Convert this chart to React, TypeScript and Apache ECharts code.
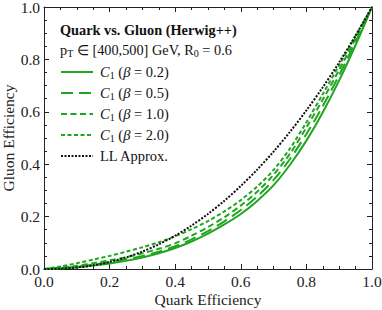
import React, { useEffect, useRef } from "react";
import * as echarts from "echarts";

const quarkEff = [0, 0.05, 0.1, 0.15, 0.2, 0.25, 0.3, 0.35, 0.4, 0.45, 0.5, 0.55, 0.6, 0.65, 0.7, 0.75, 0.8, 0.85, 0.9, 0.95, 1.0];
const beta02 = [0, 0.002, 0.0065, 0.013, 0.021, 0.031, 0.044, 0.06, 0.08, 0.105, 0.135, 0.17, 0.21, 0.26, 0.32, 0.398, 0.49, 0.598, 0.72, 0.855, 1.0];
const beta05 = [0, 0.003, 0.009, 0.017, 0.026, 0.037, 0.05, 0.066, 0.087, 0.113, 0.145, 0.182, 0.225, 0.277, 0.34, 0.42, 0.515, 0.622, 0.74, 0.868, 1.0];
const beta10 = [0, 0.005, 0.012, 0.022, 0.033, 0.045, 0.06, 0.077, 0.098, 0.127, 0.16, 0.198, 0.242, 0.295, 0.36, 0.44, 0.54, 0.647, 0.76, 0.88, 1.0];
const beta20 = [0, 0.01, 0.022, 0.036, 0.05, 0.066, 0.083, 0.102, 0.125, 0.152, 0.183, 0.22, 0.263, 0.315, 0.378, 0.46, 0.56, 0.668, 0.778, 0.89, 1.0];
const llApprox = [0, 0.0012, 0.0056, 0.014, 0.0268, 0.0442, 0.0666, 0.0942, 0.1272, 0.1658, 0.2102, 0.2605, 0.3169, 0.3794, 0.4482, 0.5235, 0.6053, 0.6937, 0.7889, 0.891, 1.0];
const tickLabels = ["0.0", "0.2", "0.4", "0.6", "0.8", "1.0"];
const legendLabels = [
  "{i|C}{s|1} ({i|β} = 0.2)",
  "{i|C}{s|1} ({i|β} = 0.5)",
  "{i|C}{s|1} ({i|β} = 1.0)",
  "{i|C}{s|1} ({i|β} = 2.0)",
  "LL Approx.",
];

const GREEN = "#1fa51f";
const BLACK = "#111";
const FONT = "Liberation Serif";

const pairs = (ys: number[]) => quarkEff.map((x, i) => [x, ys[i]]);

const styles: { color: string; dash: number[] | null }[] = [
  { color: GREEN, dash: null },
  { color: GREEN, dash: [12, 6] },
  { color: GREEN, dash: [6, 3.5] },
  { color: GREEN, dash: [4, 2.5] },
  { color: BLACK, dash: [2, 1.5] },
];

export default function App() {
  const ref = useRef<HTMLDivElement>(null);
  useEffect(() => {
    if (!ref.current) return;
    const chart = echarts.init(ref.current, undefined, { renderer: "svg" });
    const axisCommon = {
      type: "value" as const,
      min: 0,
      max: 1,
      interval: 0.2,
      axisLine: { show: true, onZero: false, lineStyle: { color: "#222", width: 1 } },
      axisTick: { show: true, inside: true, length: 5, lineStyle: { color: "#222" } },
      minorTick: { show: true, splitNumber: 4, length: 3, lineStyle: { color: "#222" } },
      splitLine: { show: false },
      minorSplitLine: { show: false },
    };
    const labelStyle = {
      fontFamily: FONT,
      fontSize: 15.5,
      color: "#222",
      formatter: (v: number) => tickLabels[Math.round(v * 5)] ?? "",
    };
    const seriesData = [beta02, beta05, beta10, beta20, llApprox];
    const series = seriesData.map((d, k) => ({
      name: "s" + k,
      type: "line",
      data: pairs(d),
      smooth: 0.3,
      symbol: "none",
      lineStyle: { color: styles[k].color, width: 2, type: styles[k].dash ?? "solid" },
      z: k === 4 ? 3 : 2,
    }));
    const legendGraphics: any[] = [];
    const rowY = [72, 93, 114, 135, 156];
    styles.forEach((s, k) => {
      legendGraphics.push({
        type: "line",
        shape: { x1: 61, y1: rowY[k], x2: 93, y2: rowY[k] },
        style: { stroke: s.color, lineWidth: 2, lineDash: s.dash ?? undefined },
      });
      legendGraphics.push({
        type: "text",
        x: 100,
        y: rowY[k],
        style: {
          text: legendLabels[k],
          fontFamily: FONT,
          fontSize: 14.5,
          fill: BLACK,
          verticalAlign: "middle",
          rich: {
            i: { fontFamily: FONT, fontSize: 14.5, fontStyle: "italic", fill: BLACK },
            s: { fontFamily: FONT, fontSize: 10, fill: BLACK, padding: [7, 0, 0, 0] },
          },
        },
      });
    });
    chart.setOption({
      animation: false,
      grid: { left: 44, right: 10, top: 7, bottom: 41, containLabel: false, outerBoundsMode: "none" },
      xAxis: [
        {
          ...axisCommon,
          position: "bottom",
          axisLabel: { ...labelStyle, margin: 4 },
          name: "Quark Efficiency",
          nameLocation: "middle",
          nameGap: 22,
          nameMoveOverlap: false,
          nameTextStyle: { fontFamily: FONT, fontSize: 15.5, color: "#222" },
        },
        { ...axisCommon, position: "top", axisLabel: { show: false } },
      ],
      yAxis: [
        {
          ...axisCommon,
          position: "left",
          axisLabel: { ...labelStyle, margin: 4 },
          name: "Gluon Efficiency",
          nameLocation: "middle",
          nameGap: 28,
          nameMoveOverlap: false,
          nameTextStyle: { fontFamily: FONT, fontSize: 15.5, color: "#222" },
        },
        { ...axisCommon, position: "right", axisLabel: { show: false } },
      ],
      graphic: [
        {
          type: "text",
          x: 60,
          y: 30,
          style: {
            text: "Quark vs. Gluon (Herwig++)",
            fontFamily: FONT,
            fontSize: 14.3,
            fontWeight: "bold",
            fill: BLACK,
            verticalAlign: "middle",
          },
        },
        {
          type: "text",
          x: 60,
          y: 50,
          style: {
            text: "{n|p}{s|T}{n| ∈ [400,500] GeV, R}{s|0}{n| = 0.6}",
            fontFamily: FONT,
            fontSize: 14.3,
            fill: BLACK,
            verticalAlign: "middle",
            rich: {
              n: { fontFamily: FONT, fontSize: 14.3, fill: BLACK },
              s: { fontFamily: FONT, fontSize: 10, fill: BLACK, padding: [7, 0, 0, 0] },
            },
          },
        },
        ...legendGraphics,
      ],
      series,
    });
    return () => chart.dispose();
  }, []);
  return <div ref={ref} style={{ position: "absolute", left: 0, top: 0, width: 382, height: 310 }} />;
}
